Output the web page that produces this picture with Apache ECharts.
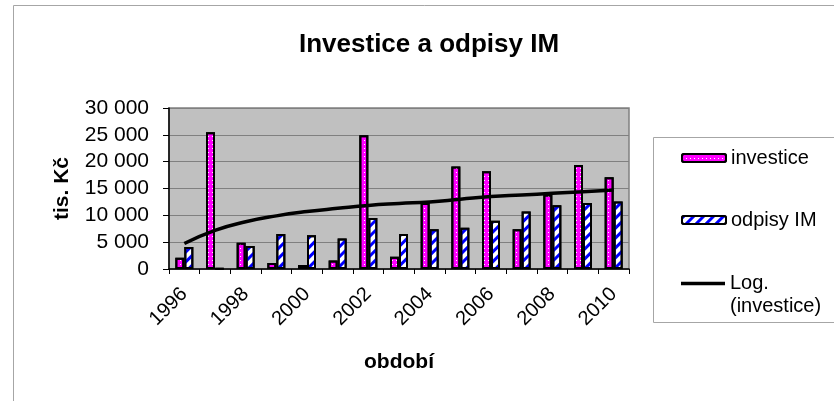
<!DOCTYPE html>
<html>
<head>
<meta charset="utf-8">
<script src="https://cdn.jsdelivr.net/npm/echarts@6/dist/echarts.min.js"></script>
<style>html,body{margin:0;padding:0;background:#fff}#c{width:834px;height:401px}</style>
</head>
<body>
<div id="c"></div>
<script>
var years = ['1996','1997','1998','1999','2000','2001','2002','2003','2004','2005','2006','2007','2008','2009','2010'];
var investice = [2100, 25500, 4900, 1100, 750, 1600, 24900, 2300, 12300, 19100, 18200, 7400, 13900, 19400, 17100];
var odpisy = [4100, 80, 4300, 6500, 6300, 5700, 9500, 6500, 7400, 7700, 9000, 10700, 11900, 12300, 12600];
var logTrend = [4750, 7200, 8800, 9900, 10700, 11300, 11850, 12200, 12500, 13000, 13500, 13800, 14100, 14400, 14700];
var yTicks = [0, 5000, 10000, 15000, 20000, 25000, 30000];

var FONT = '"Liberation Sans", Arial, sans-serif';
var chart = echarts.init(document.getElementById('c'), null, {renderer: 'canvas'});
function fmt(v){ return String(v).replace(/\B(?=(\d{3})+(?!\d))/g, ' '); }
var option = {
  animation: false,
  backgroundColor: '#fff',
  textStyle: {fontFamily: FONT},
  title: {
    text: 'Investice a odpisy IM',
    left: 294, top: 27,
    textStyle: {fontFamily: FONT, fontSize: 26, fontWeight: 'bold', color: '#000'}
  },
  graphic: [
    {type: 'rect', shape: {x: 13.5, y: 5.5, width: 830, height: 400}, style: {fill: 'none', stroke: '#a6a6a6', lineWidth: 1}, silent: true},
    {type: 'rect', shape: {x: 653.5, y: 137.5, width: 200, height: 185}, style: {fill: 'none', stroke: '#a6a6a6', lineWidth: 1}, silent: true}
  ],
  grid: {
    left: 169, right: 205, top: 108, bottom: 132,
    show: true, backgroundColor: '#c0c0c0', borderColor: '#808080', borderWidth: 1.5
  },
  legend: [
    {data: ['investice'], left: 676, top: 143, itemWidth: 44, itemHeight: 8,
     textStyle: {fontFamily: FONT, fontSize: 20, color: '#000'}},
    {data: ['odpisy IM'], left: 676, top: 205, itemWidth: 44, itemHeight: 8,
     textStyle: {fontFamily: FONT, fontSize: 20, color: '#000'}},
    {data: [{name: 'Log. (investice)', icon: 'rect'}], left: 676, top: 244, itemWidth: 44, itemHeight: 3.5,
     formatter: function(){ return ' \nLog.\n(investice)'; },
     textStyle: {fontFamily: FONT, fontSize: 20, color: '#000', lineHeight: 23}}
  ],
  xAxis: {
    type: 'category',
    data: years,
    name: 'období',
    nameLocation: 'middle',
    nameGap: 83,
    nameTextStyle: {fontFamily: FONT, fontSize: 21, fontWeight: 'bold', color: '#000'},
    axisLine: {show: true, lineStyle: {color: '#000', width: 1.5}},
    axisTick: {show: true, interval: 0, length: 5, lineStyle: {color: '#000'}},
    axisLabel: {interval: 1, rotate: 45, margin: 22, fontFamily: FONT, fontSize: 20, color: '#000'},
    splitLine: {show: false}
  },
  yAxis: {
    type: 'value',
    min: 0, max: 30000, interval: 5000,
    name: 'tis. Kč',
    nameLocation: 'middle',
    nameGap: 96,
    nameRotate: 90,
    nameTextStyle: {fontFamily: FONT, fontSize: 21, fontWeight: 'bold', color: '#000'},
    axisLine: {show: true, lineStyle: {color: '#000', width: 1.5}},
    axisTick: {show: true, length: 6, lineStyle: {color: '#000'}},
    axisLabel: {margin: 20, fontFamily: FONT, fontSize: 21, color: '#000', formatter: fmt},
    splitLine: {show: true, lineStyle: {color: '#808080', width: 1}}
  },
  series: [
    {
      name: 'investice', type: 'bar', data: investice,
      barWidth: 9, barGap: '0%',
      itemStyle: {
        color: '#ff00ff', borderColor: '#000', borderWidth: 2,
        decal: {symbol: 'rect', symbolSize: 1, color: '#ffffff', dashArrayX: [1, 3], dashArrayY: [1, 3]}
      }
    },
    {
      name: 'odpisy IM', type: 'bar', data: odpisy,
      barWidth: 9, barGap: '0%',
      itemStyle: {
        color: '#ffffff', borderColor: '#000', borderWidth: 2,
        decal: {symbol: 'rect', symbolSize: 1, color: '#0000ff', rotation: -Math.PI / 4, dashArrayX: [[1, 0]], dashArrayY: [3, 4]}
      }
    },
    {
      name: 'Log. (investice)', type: 'line', data: logTrend,
      smooth: true, symbol: 'none', showSymbol: false,
      lineStyle: {color: '#000', width: 3.5},
      itemStyle: {color: '#000'},
      z: 5
    }
  ]
};
chart.setOption(option);
</script>
</body>
</html>
